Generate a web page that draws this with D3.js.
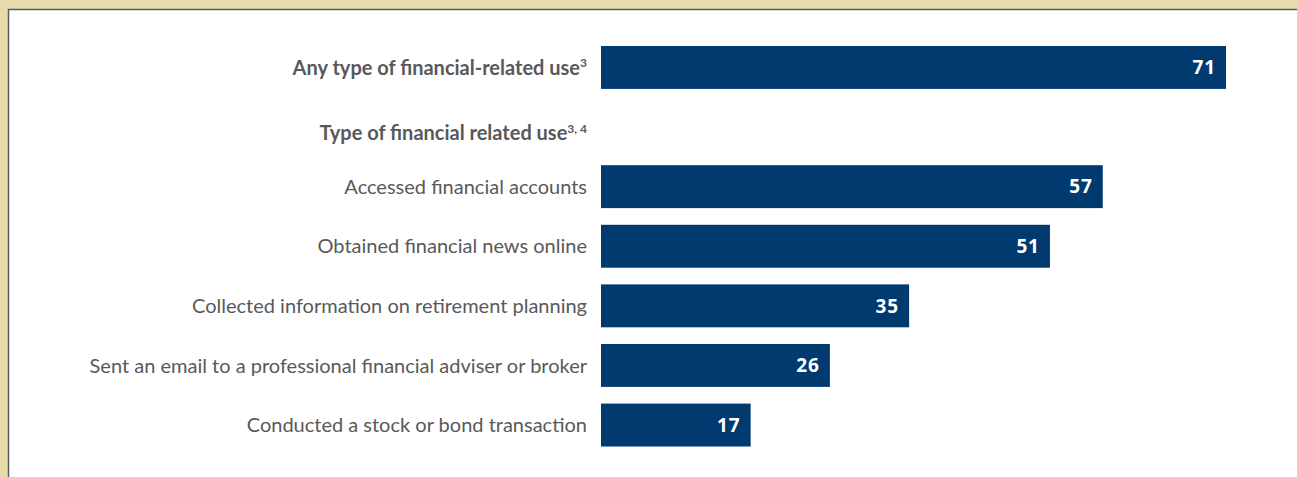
<!DOCTYPE html>
<html>
<head>
<meta charset="utf-8">
<script src="https://cdn.jsdelivr.net/npm/d3@7"></script>
<style>
  html, body { margin: 0; padding: 0; background: #e8dcac; }
  svg { display: block; }
</style>
</head>
<body>
<svg id="chart" width="1297" height="477"></svg>
<script>
const categories = [
  "Any type of financial-related use",
  "Type of financial related use",
  "Accessed financial accounts",
  "Obtained financial news online",
  "Collected information on retirement planning",
  "Sent an email to a professional financial adviser or broker",
  "Conducted a stock or bond transaction"
];
const superscripts = ["3", "3, 4", "", "", "", "", ""];
const boldRows = [true, true, false, false, false, false, false];
const values = [71, null, 57, 51, 35, 26, 17];

const svg = d3.select("#chart");
const W = 1297, H = 477;

// panel
svg.append("rect").attr("x", 8).attr("y", 9).attr("width", W).attr("height", H)
  .attr("fill", "#ffffff");
svg.append("line").attr("x1", 8.5).attr("x2", 8.5).attr("y1", 9).attr("y2", H)
  .attr("stroke", "#58595b").attr("stroke-width", 1.5);
svg.append("line").attr("x1", 8).attr("x2", W).attr("y1", 9.5).attr("y2", 9.5)
  .attr("stroke", "#58595b").attr("stroke-width", 1.5);

const x = d3.scaleLinear().domain([0, 71]).range([601, 1226]);
const y = d3.scaleBand().domain(categories).range([37.65, 454.85])
  .paddingInner(0.28).paddingOuter(0.14);

const rows = categories.map((c, i) => ({ c, v: values[i], sup: superscripts[i], bold: boldRows[i], i }));

// bars
svg.append("g").selectAll("rect").data(rows.filter(d => d.v != null)).join("rect")
  .attr("x", x(0))
  .attr("y", d => y(d.c))
  .attr("width", d => x(d.v) - x(0))
  .attr("height", y.bandwidth())
  .attr("fill", "#003a6e");

// value labels
const ls = 0.8;
svg.append("g").selectAll("text").data(rows.filter(d => d.v != null)).join("text")
  .attr("x", d => x(d.v) - 11 + ls)
  .attr("y", d => y(d.c) + y.bandwidth() / 2)
  .attr("dy", "0.36em")
  .attr("text-anchor", "end")
  .attr("font-family", "'Open Sans', Lato, sans-serif")
  .attr("font-weight", 700)
  .attr("font-size", 19)
  .attr("letter-spacing", ls)
  .attr("fill", "#ffffff")
  .text(d => d.v);

// category labels
const lab = svg.append("g").selectAll("text").data(rows).join("text")
  .attr("x", 587)
  .attr("y", d => y(d.c) + y.bandwidth() / 2 + (d.v == null ? 6 : 0))
  .attr("dy", "0.36em")
  .attr("text-anchor", "end")
  .attr("font-family", "Lato, 'Open Sans', sans-serif")
  .attr("font-weight", d => d.bold ? 700 : 400)
  .attr("font-size", 20)
  .attr("fill", "#58595b");
lab.append("tspan").text(d => d.c);
lab.filter(d => d.sup).append("tspan")
  .attr("font-size", 12)
  .attr("dy", "-0.6em")
  .text(d => d.sup);
</script>
</body>
</html>
